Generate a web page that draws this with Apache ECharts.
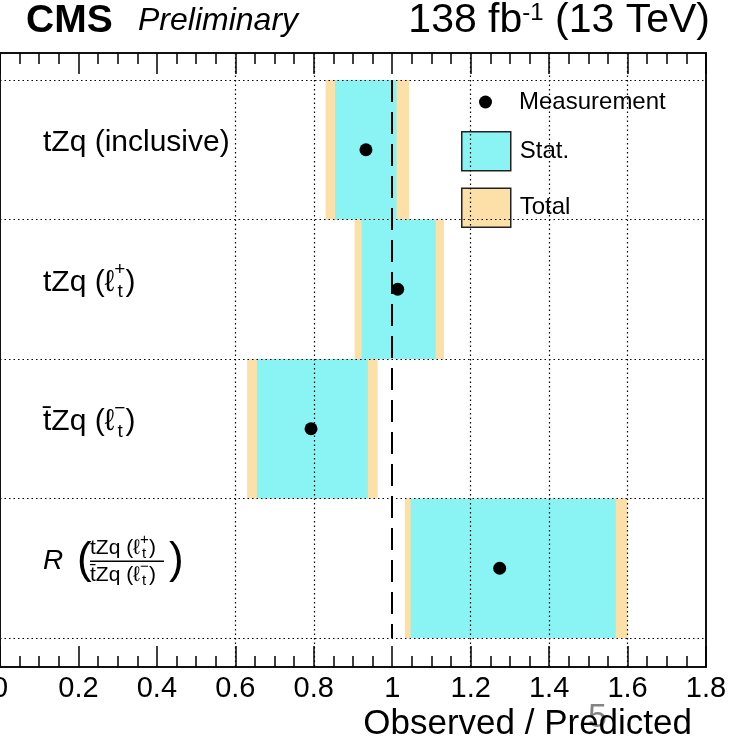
<!DOCTYPE html>
<html>
<head>
<meta charset="utf-8">
<script src="https://cdn.jsdelivr.net/npm/echarts@6/dist/echarts.min.js"></script>
<style>
  html, body { margin: 0; padding: 0; background: #fff; }
  #chart { width: 743px; height: 742px; }
</style>
</head>
<body>
<div id="chart"></div>
<script>
const categories = ["incl", "plus", "minus", "ratio"];
const measured = [0.933, 1.014, 0.793, 1.274];
const statLo = [0.854, 0.922, 0.655, 1.047];
const statHi = [1.011, 1.111, 0.938, 1.570];
const totalLo = [0.830, 0.904, 0.630, 1.032];
const totalHi = [1.043, 1.132, 0.963, 1.600];
const categoryLabels = [
  "{b|tZq (inclusive)}",
  "{b|tZq (}{b|\u2113}{sp|+}{sb|t}{b|)}",
  "{b|t\u0304Zq (}{b|\u2113}{sp|\u2212}{sb|t}{b|)}",
  "{s1| }{n|tZq (}{n|\u2113}{nsp|+}{nsb|t}{n|)}\n{R|R}{bp|(}{bar| }{bp2|)}\n{s1| }{n|t\u0304Zq (}{n|\u2113}{nsp|\u2212}{nsb|t}{n|)}"
];
const xTicks = { min: 0, max: 1.8, step: 0.2, minorStep: 0.05 };
// dotted grid lines only at 0.6 ... 1.6; 1.0 carries the dashed reference line
const gridLineAt = [0.6, 0.8, 1.2, 1.4, 1.6];

const FONT = "Liberation Sans, Arial, Helvetica, sans-serif";
const STAT_COLOR = "#8af4f4";
const TOTAL_COLOR = "#fde0a8";
const DOTS = [1.5, 3];

const chart = echarts.init(document.getElementById("chart"));

const splitColors = [];
for (let k = 0; k * xTicks.step <= xTicks.max + 1e-9; k++) {
  const v = k * xTicks.step;
  splitColors.push(gridLineAt.some((g) => Math.abs(g - v) < 1e-6) ? "#000" : "rgba(0,0,0,0)");
}

function band(name, lo, hi, color) {
  return {
    name: name,
    type: "custom",
    xAxisIndex: 2,
    yAxisIndex: 2,
    itemStyle: { color: color },
    data: categories.map((c, i) => [i, lo[i], hi[i]]),
    encode: { x: [1, 2], y: 0 },
    renderItem: (params, api) => {
      const a = api.coord([api.value(1), api.value(0)]);
      const b = api.coord([api.value(2), api.value(0)]);
      const h = api.size([0, 1])[1];
      return {
        type: "rect",
        shape: { x: a[0], y: a[1] - h / 2, width: b[0] - a[0], height: h },
        style: { fill: color },
      };
    },
  };
}

const frameLine = { show: true, onZero: false, lineStyle: { color: "#111", width: 2 } };
const noLine = { show: false, onZero: false };
const majorTick = { show: true, inside: true, length: 21, lineStyle: { color: "#000", width: 1.5 } };
const minorTickStyle = { show: true, inside: true, length: 11, lineStyle: { color: "#000", width: 1.5 } };
const hidden = { show: false };

function frameAxis(pos) {
  return {
    gridIndex: 0, type: "value", position: pos,
    min: xTicks.min, max: xTicks.max, interval: xTicks.step,
    z: 5, axisLine: frameLine, axisTick: majorTick,
    axisLabel: hidden, splitLine: hidden,
  };
}
function minorAxis(pos) {
  return {
    gridIndex: 2, type: "value", position: pos,
    min: xTicks.min, max: xTicks.max, interval: xTicks.minorStep,
    z: 5, axisLine: noLine, axisTick: minorTickStyle,
    axisLabel: hidden, splitLine: hidden,
  };
}

const bottomAxis = frameAxis("bottom");
Object.assign(bottomAxis, {
  axisLabel: { show: true, fontFamily: FONT, fontSize: 29, color: "#000", margin: 7 },
  splitLine: { show: true, lineStyle: { color: splitColors, type: DOTS, width: 1.2 } },
  name: "Observed / Predicted",
  nameLocation: "end",
  nameGap: -14,
  nameTextStyle: { fontFamily: FONT, fontSize: 35, color: "#000", align: "right", verticalAlign: "top", padding: [40, 0, 0, 0] },
});

const legendText = { fontFamily: FONT, fontSize: 24, color: "#000" };

chart.setOption({
  backgroundColor: "#fff",
  animation: false,
  title: [
    {
      text: "{c|CMS}{p|Preliminary}",
      left: 26,
      top: 1,
      padding: 0,
      textStyle: {
        fontWeight: "normal",
        rich: {
          c: { fontFamily: FONT, fontSize: 39, fontWeight: "bold", color: "#000", width: 112, lineHeight: 40 },
          p: { fontFamily: FONT, fontSize: 32, fontStyle: "italic", fontWeight: "normal", color: "#000", lineHeight: 40 },
        },
      },
    },
    {
      text: "{m|138 fb}{s|-1}{m| (13 TeV)}",
      right: 33,
      top: 1,
      padding: 0,
      textStyle: {
        fontWeight: "normal",
        rich: {
          m: { fontFamily: FONT, fontSize: 41, fontWeight: "normal", color: "#000", lineHeight: 40 },
          s: { fontFamily: FONT, fontSize: 24, fontWeight: "normal", color: "#000", lineHeight: 22, verticalAlign: "top" },
        },
      },
    },
  ],
  legend: [
    {
      data: [{ name: "Measurement", icon: "circle", itemStyle: { color: "#000", opacity: 1 } }],
      orient: "vertical",
      left: 479,
      top: 90,
      padding: 0,
      itemWidth: 13,
      itemHeight: 13,
      selectedMode: false,
      textStyle: Object.assign({ padding: [0, 0, 0, 22] }, legendText),
    },
    {
      data: [
        { name: "Stat.", icon: "rect", itemStyle: { color: STAT_COLOR, borderColor: "#222", borderWidth: 1.5 } },
        { name: "Total", icon: "rect", itemStyle: { color: TOTAL_COLOR, borderColor: "#222", borderWidth: 1.5 } },
      ],
      orient: "vertical",
      left: 461,
      top: 131,
      padding: 0,
      itemWidth: 49,
      itemHeight: 39,
      itemGap: 16,
      selectedMode: false,
      textStyle: Object.assign({ padding: [0, 0, 0, 4] }, legendText),
    },
  ],
  grid: [
    { left: 0, right: 37, top: 53, bottom: 75, outerBoundsMode: "none", containLabel: false },
    { left: 0, right: 37, top: 80, bottom: 104, outerBoundsMode: "none", containLabel: false },
    { left: 0, right: 37, top: 53, bottom: 75, outerBoundsMode: "none", containLabel: false },
  ],
  xAxis: [
    bottomAxis,
    frameAxis("top"),
    { gridIndex: 1, type: "value", min: xTicks.min, max: xTicks.max, show: false },
    minorAxis("bottom"),
    minorAxis("top"),
  ],
  yAxis: [
    { gridIndex: 0, type: "value", position: "left", min: 0, max: 1, z: 5, axisLine: frameLine, axisTick: hidden, axisLabel: hidden, splitLine: hidden },
    { gridIndex: 0, type: "value", position: "right", min: 0, max: 1, z: 5, axisLine: frameLine, axisTick: hidden, axisLabel: hidden, splitLine: hidden },
    {
      gridIndex: 1,
      type: "category",
      data: categories,
      inverse: true,
      z: 5,
      axisLine: noLine,
      axisTick: hidden,
      splitLine: { show: true, lineStyle: { color: "#000", type: DOTS, width: 1.2 } },
      axisLabel: {
        inside: true,
        margin: 43,
        padding: [0, 0, 14, 0],
        formatter: (v, i) => categoryLabels[i],
        rich: {
          b: { fontFamily: FONT, fontSize: 30, color: "#000", lineHeight: 36 },
          // superscript / subscript stacked: zero-width sup, offsets done with padding
          sp: { fontFamily: FONT, fontSize: 19, color: "#000", width: 0.1, align: "left", lineHeight: 10, padding: [0, 0, 25, 0] },
          sb: { fontFamily: FONT, fontSize: 19, color: "#000", width: 8, align: "left", lineHeight: 10, padding: [20, 0, 0, 3] },
          s1: { fontSize: 18, width: 47, lineHeight: 23 },
          n: { fontFamily: FONT, fontSize: 21, color: "#000", lineHeight: 23 },
          nsp: { fontFamily: FONT, fontSize: 15, color: "#000", width: 0.1, align: "left", lineHeight: 4, padding: [0, 0, 16, 0] },
          nsb: { fontFamily: FONT, fontSize: 15, color: "#000", width: 7, align: "left", lineHeight: 4, padding: [12, 0, 0, 2] },
          R: { fontFamily: FONT, fontSize: 28, fontStyle: "italic", color: "#000", width: 34, align: "left", lineHeight: 4 },
          bp: { fontFamily: FONT, fontSize: 44, color: "#000", width: 13, align: "left", lineHeight: 4 },
          bar: { width: 74, height: 1.5, lineHeight: 4, align: "left", backgroundColor: "#000" },
          bp2: { fontFamily: FONT, fontSize: 44, color: "#000", align: "left", padding: [0, 0, 0, 5], lineHeight: 4 },
        },
      },
    },
    { gridIndex: 2, type: "value", min: 0, max: 1, show: false },
  ],
  graphic: [
    { type: "text", left: 588, top: 701, silent: true, style: { text: "5", font: "34px " + FONT, fill: "rgba(110,110,110,0.85)" } },
  ],
  series: [
    band("Total", totalLo, totalHi, TOTAL_COLOR),
    band("Stat.", statLo, statHi, STAT_COLOR),
    {
      name: "Measurement",
      type: "scatter",
      xAxisIndex: 2,
      yAxisIndex: 2,
      symbol: "circle",
      symbolSize: 13,
      itemStyle: { color: "#000", opacity: 1 },
      data: categories.map((c, i) => [measured[i], i]),
      markLine: {
        silent: true,
        symbol: ["none", "none"],
        label: { show: false },
        lineStyle: { color: "#000", type: [22, 10], width: 2 },
        data: [{ xAxis: 1 }],
      },
    },
  ],
});
</script>
</body>
</html>
